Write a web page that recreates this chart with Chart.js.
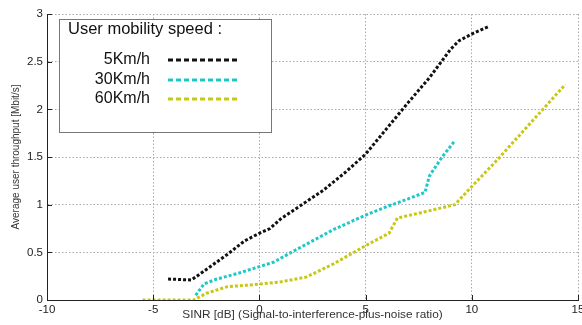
<!DOCTYPE html>
<html>
<head>
<meta charset="utf-8">
<script src="https://cdn.jsdelivr.net/npm/chart.js@4.4.1/dist/chart.umd.min.js"></script>
<style>
  html, body { margin: 0; padding: 0; background: #fff; }
  #wrap { width: 582px; height: 325px; }
</style>
</head>
<body>
<div id="wrap"><canvas id="chart"></canvas></div>
<script>
// SINR [dB] / throughput [Mbit/s]
const sinr5 = [-4.3, -3.2, -2.5, -1.5, -0.7, 0, 0.5, 1.0, 2.0, 3.0, 4.0, 5.0, 6.0, 7.0, 8.0, 9.0, 9.4, 10.0, 10.8];
const thr5  = [0.22, 0.21, 0.32, 0.48, 0.62, 0.70, 0.75, 0.85, 1.0, 1.15, 1.33, 1.53, 1.80, 2.07, 2.33, 2.63, 2.72, 2.79, 2.87];

const sinr30 = [-3.0, -2.6, -2.0, -1.0, 0, 0.7, 1.5, 2.5, 3.5, 5.0, 6.0, 7.0, 7.8, 8.0, 8.3, 8.6, 9.2];
const thr30  = [0.05, 0.17, 0.22, 0.28, 0.35, 0.40, 0.50, 0.62, 0.74, 0.89, 0.98, 1.06, 1.13, 1.30, 1.40, 1.50, 1.67];

const sinr60 = [-5.5, -3.1, -2.5, -1.5, -0.3, 1.0, 2.2, 3.5, 5.0, 6.1, 6.5, 7.5, 9.2, 10.0, 11.2, 14.4];
const thr60  = [0, 0, 0.07, 0.14, 0.16, 0.19, 0.24, 0.38, 0.57, 0.70, 0.86, 0.91, 1.0, 1.19, 1.47, 2.26];

const seriesNames = ['5Km/h', '30Km/h', '60Km/h'];
const seriesColors = ['#111111', '#1ec8c8', '#c8c814'];
const legendTitle = 'User mobility speed :';

const FONT = '"Liberation Sans", Arial, sans-serif';

function toPoints(xs, ys) {
    return xs.map((x, i) => ({ x: x, y: ys[i] }));
}

// legend box inside the plot + inward tick marks
const extras = {
    id: 'extras',
    afterDraw(chart) {
        const ctx = chart.ctx;
        const xs = chart.scales.x;
        const ys = chart.scales.y;
        const area = chart.chartArea;

        ctx.save();
        ctx.strokeStyle = '#222';
        ctx.lineWidth = 1;
        ctx.beginPath();
        xs.ticks.forEach(t => {
            const px = Math.round(xs.getPixelForValue(t.value)) + 0.5;
            ctx.moveTo(px, area.bottom);
            ctx.lineTo(px, area.bottom - 5);
        });
        ys.ticks.forEach(t => {
            const py = Math.round(ys.getPixelForValue(t.value)) + 0.5;
            ctx.moveTo(area.left, py);
            ctx.lineTo(area.left + 5, py);
        });
        ctx.stroke();

        // legend
        ctx.fillStyle = '#fff';
        ctx.fillRect(59, 19, 212, 113);
        ctx.strokeStyle = '#777';
        ctx.strokeRect(59.5, 19.5, 212, 113);

        ctx.fillStyle = '#111';
        ctx.font = '16.5px ' + FONT;
        ctx.textBaseline = 'alphabetic';
        ctx.textAlign = 'left';
        ctx.fillText(legendTitle, 68, 34);

        ctx.textAlign = 'right';
        ctx.font = '16px ' + FONT;
        const rows = [64, 84, 103];
        seriesNames.forEach((name, i) => {
            ctx.fillStyle = '#111';
            ctx.fillText(name, 150, rows[i]);
            ctx.strokeStyle = seriesColors[i];
            ctx.lineWidth = 3;
            ctx.setLineDash([5, 3]);
            ctx.beginPath();
            ctx.moveTo(168, rows[i] - 4);
            ctx.lineTo(240, rows[i] - 4);
            ctx.stroke();
        });
        ctx.restore();
    }
};

const datasets = [
    toPoints(sinr5, thr5),
    toPoints(sinr30, thr30),
    toPoints(sinr60, thr60)
].map((pts, i) => ({
    label: seriesNames[i],
    data: pts,
    borderColor: seriesColors[i],
    borderWidth: 3,
    borderDash: [3, 2],
    pointRadius: 0,
    tension: 0,
    fill: false
}));

new Chart(document.getElementById('chart'), {
    type: 'line',
    data: { datasets: datasets },
    options: {
        responsive: true,
        maintainAspectRatio: false,
        animation: false,
        layout: { padding: { top: 14, right: 4, left: 0, bottom: 0 } },
        plugins: {
            legend: { display: false },
            tooltip: { enabled: false }
        },
        scales: {
            x: {
                type: 'linear',
                min: -10,
                max: 15,
                afterFit: s => { s.height = 25; s.paddingLeft = 0; s.paddingRight = 0; },
                ticks: {
                    stepSize: 5,
                    padding: 3,
                    maxRotation: 0,
                    color: '#222',
                    font: { family: FONT, size: 11.5 },
                    callback: v => String(v)
                },
                grid: {
                    color: '#aaa',
                    lineWidth: 1,
                    drawTicks: false
                },
                border: { display: true, color: '#222', width: 1, dash: [1.5, 2] },
                title: {
                    display: true,
                    text: 'SINR [dB] (Signal-to-interference-plus-noise ratio)',
                    color: '#333',
                    font: { family: FONT, size: 11.8 },
                    padding: { top: 0, bottom: 3 }
                }
            },
            y: {
                min: 0,
                max: 3,
                afterFit: s => { s.width = 47; s.paddingTop = 0; s.paddingBottom = 0; },
                ticks: {
                    stepSize: 0.5,
                    padding: 4,
                    color: '#222',
                    font: { family: FONT, size: 11.5 },
                    callback: v => String(v)
                },
                grid: {
                    color: '#aaa',
                    lineWidth: 1,
                    drawTicks: false
                },
                border: { display: true, color: '#222', width: 1, dash: [1.5, 2] },
                title: {
                    display: true,
                    text: 'Average user throughput [Mbit/s]',
                    color: '#333',
                    font: { family: FONT, size: 10 },
                    padding: { top: 10, bottom: 0 }
                }
            }
        }
    },
    plugins: [extras]
});
</script>
</body>
</html>
